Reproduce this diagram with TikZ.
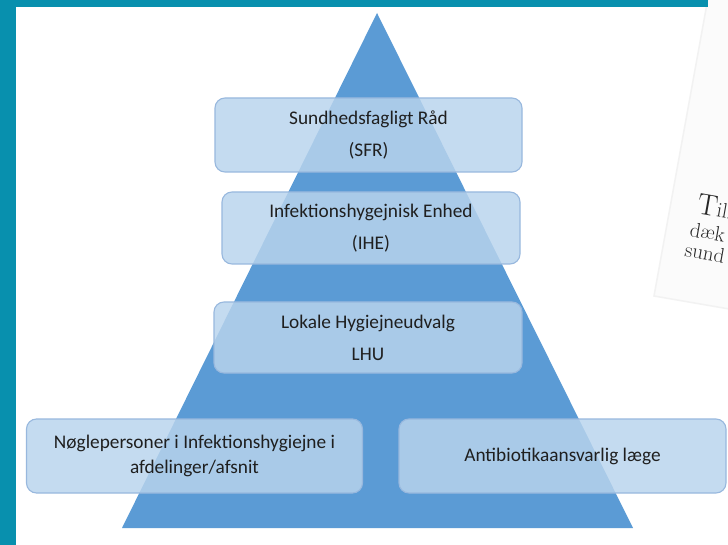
\documentclass[tikz,border=0pt]{standalone}
\usepackage{fontspec}
\newfontfamily\boxfont{Carlito}
\definecolor{tealbar}{HTML}{0890AE}
\definecolor{tri}{HTML}{5B9BD5}
\definecolor{boxfill}{RGB}{185,212,237}
\definecolor{boxline}{HTML}{98B8DE}
\definecolor{paper}{HTML}{FBFBFB}
\begin{document}
\begin{tikzpicture}[x=1pt,y=-1pt,
  box/.style={draw=boxline, line width=1.1pt, fill=boxfill, fill opacity=0.83, text opacity=1,
    rounded corners=10pt, align=center, inner sep=0pt, text=black!88},
  boxtxt/.style={font=\boxfont\fontsize{19.3}{32}\selectfont},
  papertxt/.style={rotate=-10, anchor=base west, text=black!85, inner sep=0pt}]
\useasboundingbox (0,0) rectangle (728,545);
\clip (0,0) rectangle (728,545);
\fill[white] (0,0) rectangle (728,545);
% paper sheet
\fill[paper] (708,-2) -- (654,296) -- (735,310) -- (735,-2) -- cycle;
\draw[black!5, line width=1.5pt] (708,-2) -- (654,296) -- (735,310);
\node[papertxt, font=\fontsize{30}{30}\selectfont] (till) at (696,213) {T\fontsize{21}{21}\selectfont ill};
\node[papertxt, font=\fontsize{21}{21}\selectfont] (daek) at (689,236) {dæk};
\node[papertxt, font=\fontsize{21}{21}\selectfont] (sund) at (684,256) {sund};
% teal frame
\fill[tealbar] (0,0) rectangle (708,7);
\fill[tealbar] (0,0) rectangle (16,545);
% pyramid
\fill[tri] (377,13) -- (633,528) -- (122,528) -- cycle;
% boxes
\node[box, boxtxt, minimum width=307pt, minimum height=74pt] (sfr) at (368.5,135) {Sundhedsfagligt Råd\\(SFR)};
\node[box, boxtxt, minimum width=298pt, minimum height=72pt] (ihe) at (371,228) {Infektionshygejnisk Enhed\\(IHE)};
\node[box, boxtxt, minimum width=308pt, minimum height=71pt] (lhu) at (368,337.5) {Lokale Hygiejneudvalg\\LHU};
\node[box, font=\boxfont\fontsize{19.3}{25}\selectfont, minimum width=336pt, minimum height=74pt] (noegle) at (194.5,456) {Nøglepersoner i Infektionshygiejne i\\afdelinger/afsnit};
\node[box, boxtxt, minimum width=327pt, minimum height=74pt] (anti) at (562.5,456) {Antibiotikaansvarlig læge};
\end{tikzpicture}
\end{document}
